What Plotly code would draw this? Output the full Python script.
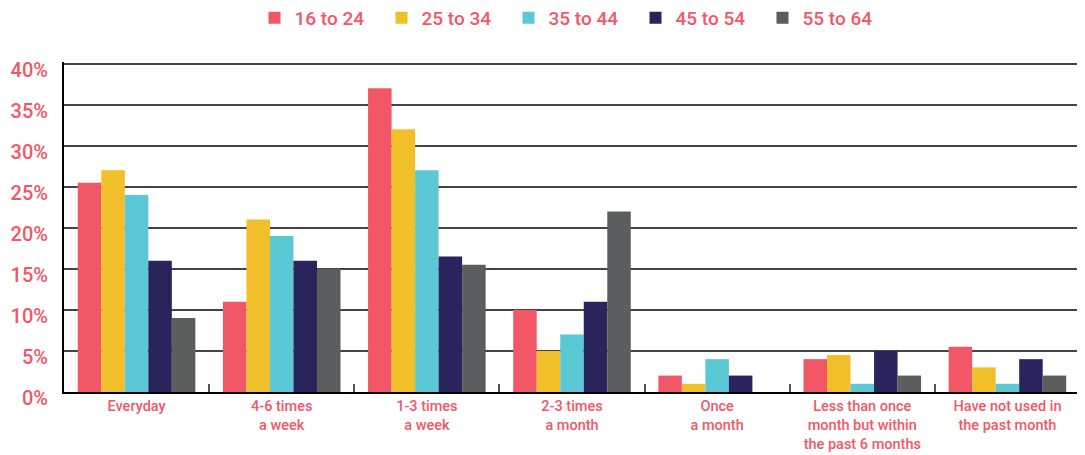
import plotly.graph_objects as go

categories = ["Everyday", "4-6 times<br>a week", "1-3 times<br>a week", "2-3 times<br>a month",
              "Once<br>a month", "Less than once<br>month but within<br>the past 6 months",
              "Have not used in<br>the past month"]
series_names = ["16 to 24", "25 to 34", "35 to 44", "45 to 54", "55 to 64"]
v16_24 = [25.5, 11, 37, 10, 2, 4, 5.5]
v25_34 = [27, 21, 32, 5, 1, 4.5, 3]
v35_44 = [24, 19, 27, 7, 4, 1, 1]
v45_54 = [16, 16, 16.5, 11, 2, 5, 4]
v55_64 = [9, 15, 15.5, 22, 0, 2, 2]
colors = ["#F25767", "#F0BF2A", "#5BC8D6", "#29255C", "#5A5E5F"]
tick_vals = [0, 5, 10, 15, 20, 25, 30, 35, 40]
tick_text = [f"{v}%" for v in tick_vals]

text_color = "#F25767"
fig = go.Figure()
for name, vals, col in zip(series_names, [v16_24, v25_34, v35_44, v45_54, v55_64], colors):
    fig.add_trace(go.Bar(x=categories, y=vals, name=name, marker_color=col, marker_line_width=0))

W, H = 1077, 447
fig.update_layout(
    width=W, height=H,
    margin=dict(l=56, r=5, t=54, b=63, autoexpand=False),
    paper_bgcolor="white", plot_bgcolor="white",
    barmode="group", bargap=0.19, bargroupgap=0,
    font=dict(family="Roboto", color=text_color),
    legend=dict(orientation="h", x=0.5, xanchor="center", y=1 - 10 / H, yanchor="middle",
                yref="container", font=dict(size=19, color=text_color, weight=500),
                itemwidth=30, entrywidth=82, traceorder="normal"),
    showlegend=True,
)
fig.update_xaxes(
    showline=True, linecolor="black", linewidth=2,
    ticks="inside", tickson="boundaries", ticklen=8, tickcolor="#555", tickwidth=2,
    tickfont=dict(size=14.5, color=text_color, family="Roboto", weight=500),
    showgrid=False, automargin=False,
)
fig.update_yaxes(
    range=[0, 40.2], tickvals=tick_vals, ticktext=tick_text,
    showline=True, linecolor="black", linewidth=2,
    showgrid=True, gridcolor="#444", gridwidth=2,
    tickfont=dict(size=20, color=text_color, family="Roboto", weight=500),
    zeroline=False, ticks="", ticklabelstandoff=10, ticklabelshift=6, automargin=False,
)
fig.write_html("out.html")
